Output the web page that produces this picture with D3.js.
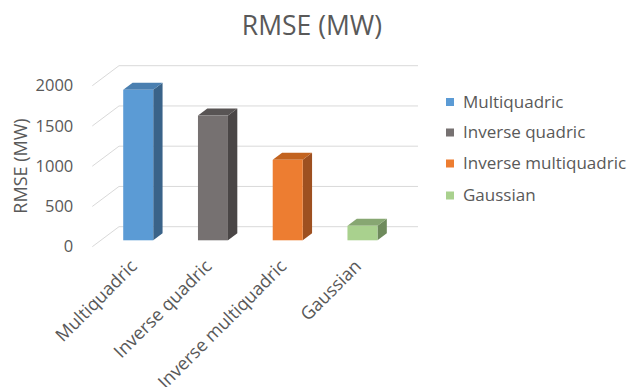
<!DOCTYPE html>
<html>
<head>
<meta charset="utf-8">
<script src="https://cdn.jsdelivr.net/npm/d3@7"></script>
<style>
  html, body { margin: 0; padding: 0; background: #fff; }
  svg { display: block; font-family: "Open Sans", "Segoe UI", sans-serif; }
</style>
</head>
<body>
<svg id="chart" width="630" height="387"></svg>
<script>
// Chart data
const categories = ["Multiquadric", "Inverse quadric", "Inverse multiquadric", "Gaussian"];
const rmseValues = [1870, 1550, 1000, 180];
const yTicks = [0, 500, 1000, 1500, 2000];
const frontColors = ["#5B9BD5", "#767171", "#ED7D31", "#A9D18E"];
const topColors   = ["#4A7FB0", "#585454", "#C2631F", "#87A772"];
const sideColors  = ["#3A6389", "#4A4646", "#9E5020", "#6E8A5C"];
const titleText = "RMSE (MW)";
const yAxisTitle = "RMSE (MW)";

const svg = d3.select("#chart");
const textColor = "#595959";
const gridColor = "#D9D9D9";

// Oblique 3D layout: front floor edge, depth vector of the floor
const frontLeft = 92.3, frontRight = 391.3;
const depth = { dx: 26.7, dy: -20 };
const barFront = 0.32, barBack = 0.67;   // bar position within the floor depth

const x = d3.scaleBand().domain(categories).range([frontLeft, frontRight]).paddingInner(0).paddingOuter(0);
const y = d3.scaleLinear().domain([0, 2000]).range([246.7, 85.7]);
const barWidth = 30;

// Title
svg.append("text")
  .attr("x", 312).attr("y", 35)
  .attr("text-anchor", "middle")
  .attr("font-size", 26.5)
  .attr("fill", textColor)
  .text(titleText);

// Gridlines: diagonal on the side wall, then horizontal along the back wall
const grid = svg.append("g");
yTicks.forEach(t => {
  const yf = y(t);
  const xb = frontLeft + depth.dx, yb = yf + depth.dy;
  grid.append("path")
    .attr("d", `M${frontLeft},${yf}L${xb},${yb}L${frontRight + depth.dx},${yb}`)
    .attr("fill", "none")
    .attr("stroke", gridColor)
    .attr("stroke-width", 1);
});

// Y tick labels (d3 axis on the front plane, no domain/tick lines)
const yAxis = svg.append("g")
  .attr("transform", `translate(${frontLeft - 6},0)`)
  .call(d3.axisLeft(y).tickValues(yTicks).tickSize(0).tickPadding(13).tickFormat(d3.format("d")));
yAxis.select(".domain").remove();
yAxis.selectAll("text")
  .attr("font-size", 16.5)
  .attr("font-family", "Open Sans, sans-serif")
  .attr("fill", textColor);

// Y axis title
svg.append("text")
  .attr("transform", "translate(27,166) rotate(-90)")
  .attr("text-anchor", "middle")
  .attr("font-size", 18)
  .attr("fill", textColor)
  .text(yAxisTitle);

// Bars as oblique boxes
const bdx = (barBack - barFront) * depth.dx, bdy = (barBack - barFront) * depth.dy;
const fdx = barFront * depth.dx, fdy = barFront * depth.dy;
const bars = svg.append("g");
categories.forEach((c, i) => {
  const v = rmseValues[i];
  const x0 = x(c) + (x.bandwidth() - barWidth) / 2 + fdx;
  const x1 = x0 + barWidth;
  const yTop = y(v) + fdy, yBase = y(0) + fdy;
  // side
  bars.append("path")
    .attr("d", `M${x1},${yTop}L${x1 + bdx},${yTop + bdy}L${x1 + bdx},${yBase + bdy}L${x1},${yBase}Z`)
    .attr("fill", sideColors[i]);
  // top
  bars.append("path")
    .attr("d", `M${x0},${yTop}L${x0 + bdx},${yTop + bdy}L${x1 + bdx},${yTop + bdy}L${x1},${yTop}Z`)
    .attr("fill", topColors[i]);
  // front
  bars.append("rect")
    .attr("x", x0).attr("y", yTop)
    .attr("width", barWidth).attr("height", yBase - yTop)
    .attr("fill", frontColors[i]);
});

// Category labels, rotated
const xLabels = svg.append("g");
categories.forEach((c, i) => {
  const cx = x(c) + x.bandwidth() / 2 + 4;
  xLabels.append("text")
    .attr("transform", `translate(${cx},${263}) rotate(-45)`)
    .attr("text-anchor", "end")
    .attr("dy", "0.35em")
    .attr("font-size", 18)
    .attr("fill", textColor)
    .text(c);
});

// Legend
const legend = svg.append("g");
const legendY = [102, 132.5, 163.5, 195.5];
categories.forEach((c, i) => {
  legend.append("rect")
    .attr("x", 446).attr("y", legendY[i] - 4)
    .attr("width", 8).attr("height", 8)
    .attr("fill", frontColors[i]);
  legend.append("text")
    .attr("x", 463).attr("y", legendY[i])
    .attr("dy", "0.35em")
    .attr("font-size", 17)
    .attr("fill", textColor)
    .text(c);
});
</script>
</body>
</html>
